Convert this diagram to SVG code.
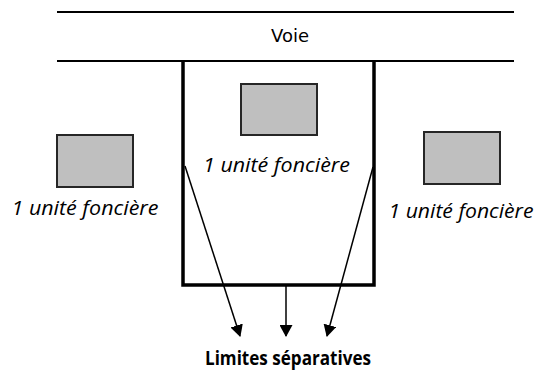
<svg xmlns="http://www.w3.org/2000/svg" width="536" height="371" viewBox="0 0 536 371">
<style>
.road{stroke:#000;stroke-width:2;fill:none}
.lot{stroke:#000;stroke-width:3.5;fill:none}
.bldg{fill:#bfbfbf;stroke:#262626;stroke-width:2}
.lbl{font-family:"Open Sans","Liberation Sans",sans-serif;font-style:italic;font-size:20px;fill:#000}
.voie{font-family:"DejaVu Sans",sans-serif;font-size:18px;fill:#000}
.title{font-family:"Open Sans","Liberation Sans",sans-serif;font-weight:bold;font-size:20px;fill:#000}
.arr{stroke:#000;stroke-width:1.5;fill:none;marker-end:url(#ah)}
</style>
<defs>
<marker id="ah" viewBox="0 0 12 13" refX="11" refY="6.5" markerWidth="12" markerHeight="13" markerUnits="userSpaceOnUse" orient="auto">
<path d="M0,0 L12,6.5 L0,13 z" fill="#000"/>
</marker>
</defs>
<rect width="536" height="371" fill="#fff"/>
<g id="voie">
<line class="road" x1="57" y1="12" x2="514" y2="12"/>
<line class="road" x1="57" y1="61" x2="514" y2="61"/>
<text class="voie" x="290" y="42" text-anchor="middle">Voie</text>
</g>
<g id="parcelle-centre">
<path class="lot" d="M183,61 V285 H374 V61"/>
<rect class="bldg" x="241" y="84" width="76" height="51"/>
<text class="lbl" x="276.5" y="172" text-anchor="middle" textLength="147" lengthAdjust="spacingAndGlyphs">1 unité foncière</text>
</g>
<g id="parcelle-gauche">
<rect class="bldg" x="57" y="135" width="76" height="52"/>
<text class="lbl" x="85" y="215" text-anchor="middle" textLength="147" lengthAdjust="spacingAndGlyphs">1 unité foncière</text>
</g>
<g id="parcelle-droite">
<rect class="bldg" x="424" y="132" width="76" height="52"/>
<text class="lbl" x="461" y="218" text-anchor="middle" textLength="145" lengthAdjust="spacingAndGlyphs">1 unité foncière</text>
</g>
<g id="connecteurs">
<line class="arr" x1="185" y1="166" x2="240" y2="336"/>
<line class="arr" x1="286" y1="286" x2="286" y2="336"/>
<line class="arr" x1="373" y1="167" x2="327" y2="336"/>
</g>
<g id="limites">
<text class="title" x="288" y="365" text-anchor="middle" textLength="166" lengthAdjust="spacingAndGlyphs">Limites séparatives</text>
</g>
</svg>
